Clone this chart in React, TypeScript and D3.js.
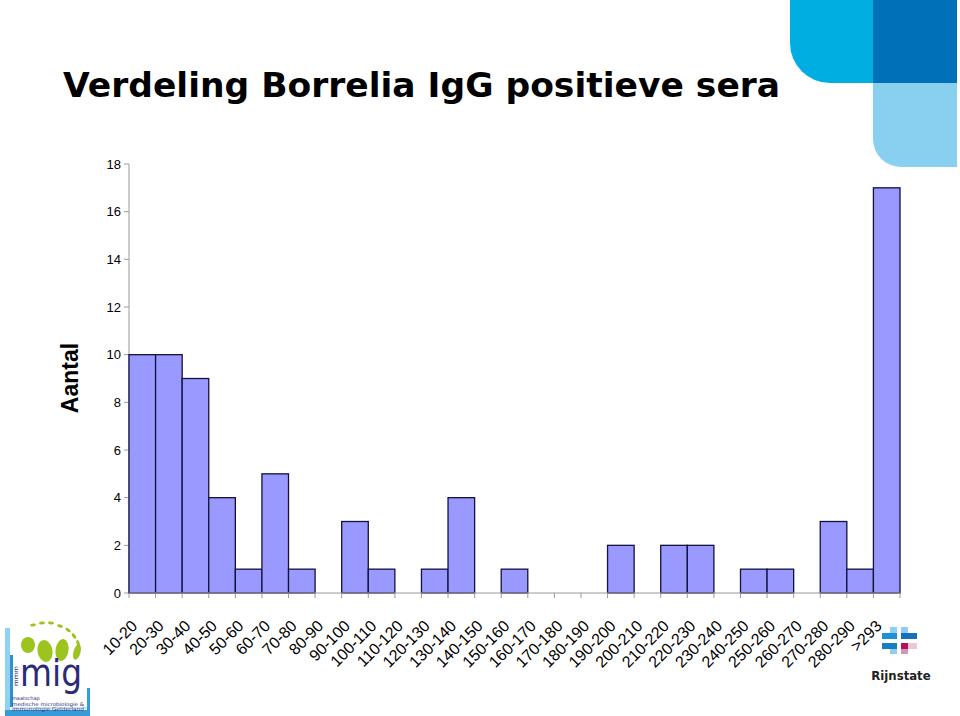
import React from "react";
import * as d3 from "d3";

const categories = [
  "10-20", "20-30", "30-40", "40-50", "50-60", "60-70", "70-80", "80-90", "90-100",
  "100-110", "110-120", "120-130", "130-140", "140-150", "150-160", "160-170", "170-180",
  "180-190", "190-200", "200-210", "210-220", "220-230", "230-240", "240-250", "250-260",
  "260-270", "270-280", "280-290", ">293",
];
const counts = [10, 10, 9, 4, 1, 5, 1, 0, 3, 1, 0, 1, 4, 0, 1, 0, 0, 0, 2, 0, 2, 2, 0, 1, 1, 0, 3, 1, 17];
const yTicks = [0, 2, 4, 6, 8, 10, 12, 14, 16, 18];
const title = "Verdeling Borrelia IgG positieve sera";
const yTitle = "Aantal";

const W = 960;
const H = 716;
const plotLeft = 129;
const plotRight = 900;
const plotTop = 164;
const plotBottom = 593;

export default function App() {
  const x = d3.scaleBand<string>().domain(categories).range([plotLeft, plotRight]).padding(0);
  const y = d3.scaleLinear().domain([0, 18]).range([plotBottom, plotTop]);
  const bw = x.bandwidth();
  const boundaries = d3.range(categories.length + 1).map((i) => plotLeft + i * bw);
  const arial = "'Liberation Sans', Arial, sans-serif";

  return (
    <svg
      width={W}
      height={H}
      viewBox={`0 0 ${W} ${H}`}
      style={{ position: "absolute", left: 0, top: 0, background: "#fff" }}
    >
      <rect x={0} y={0} width={W} height={H} fill="#fff" />

      {/* top-right decoration */}
      <path d="M790,0 H873 V83 H830 A40,40 0 0 1 790,43 Z" fill="#00aee2" />
      <rect x={873} y={0} width={84} height={83} fill="#0070b9" />
      <path d="M873,83 H957 V167 H901 A28,28 0 0 1 873,139 Z" fill="#88cff0" />

      {/* title */}
      <text x={63} y={97} fontFamily="'DejaVu Sans', Verdana, sans-serif" fontWeight="bold" fontSize={34.5} fill="#000">
        {title}
      </text>

      {/* y title */}
      <text
        transform={`translate(78,378) rotate(-90)`}
        textAnchor="middle"
        fontFamily={arial}
        fontWeight="bold"
        fontSize={23}
        fill="#000"
      >
        {yTitle}
      </text>

      {/* y axis */}
      <line x1={plotLeft} x2={plotLeft} y1={plotTop} y2={plotBottom} stroke="#9a9a9a" strokeWidth={1} />
      {yTicks.map((t) => (
        <g key={t}>
          <line x1={plotLeft - 5} x2={plotLeft} y1={y(t)} y2={y(t)} stroke="#9a9a9a" strokeWidth={1} />
          <text x={121} y={y(t)} dy="0.36em" textAnchor="end" fontFamily={arial} fontSize={13} fill="#000">
            {t}
          </text>
        </g>
      ))}

      {/* bars */}
      {categories.map((c, i) =>
        counts[i] > 0 ? (
          <rect
            key={c}
            x={x(c)}
            y={y(counts[i])}
            width={bw}
            height={plotBottom - y(counts[i])}
            fill="#9999ff"
            stroke="#12123c"
            strokeWidth={1.3}
          />
        ) : null
      )}

      {/* x axis */}
      <line x1={plotLeft} x2={plotRight} y1={plotBottom} y2={plotBottom} stroke="#9a9a9a" strokeWidth={1} />
      {boundaries.map((b, i) => (
        <line key={i} x1={b} x2={b} y1={plotBottom} y2={plotBottom + 5} stroke="#9a9a9a" strokeWidth={1} />
      ))}
      {categories.map((c) => (
        <text
          key={c}
          transform={`translate(${(x(c) as number) + bw / 2 - 4},${627}) rotate(-45)`}
          textAnchor="end"
          fontFamily={arial}
          fontSize={16}
          fill="#000"
        >
          {c}
        </text>
      ))}

      {/* mig logo */}
      <g>
        <rect x={5} y={628} width={5} height={88} fill="#8fd3f0" />
        <rect x={10} y={655} width={3} height={52} fill="#2f8fd0" />
        <rect x={5} y={710} width={85} height={6} fill="#3a9ad8" />
        <rect x={87} y={688} width={3} height={28} fill="#3a9ad8" />
        <rect x={13} y={707} width={74} height={2} fill="#bfe6f8" />
        {[
          [33, 625, 3, 1.5, -10],
          [42, 623, 3, 1.5, -5],
          [51, 623, 3, 1.5, 5],
          [60, 626, 3, 1.5, 20],
          [68, 630, 3, 1.5, 35],
          [74, 636, 3, 1.6, 55],
          [78, 643, 3, 1.6, 75],
        ].map((d, i) => (
          <ellipse key={i} cx={d[0]} cy={d[1]} rx={d[2]} ry={d[3]} transform={`rotate(${d[4]},${d[0]},${d[1]})`} fill="#9cc31e" />
        ))}
        <ellipse cx={28} cy={645} rx={7} ry={8} fill="#9cc31e" />
        <ellipse cx={45} cy={651} rx={7.5} ry={11} transform="rotate(-10,45,651)" fill="#9cc31e" />
        <ellipse cx={62} cy={650} rx={6.5} ry={11} transform="rotate(8,62,650)" fill="#9cc31e" />
        <ellipse cx={77} cy={652} rx={3.5} ry={8} transform="rotate(15,77,652)" fill="#9cc31e" />
        <text x={20} y={686} fontFamily="'DejaVu Sans', sans-serif" fontSize={38} fill="#2c2a78" textLength={62} lengthAdjust="spacingAndGlyphs">
          mig
        </text>
        <text transform="translate(18,686) rotate(-90)" fontFamily="'DejaVu Sans', sans-serif" fontSize={6} fill="#2c2a78" textLength={20} lengthAdjust="spacingAndGlyphs">
          mmm
        </text>
        <text x={12} y={700} fontFamily="'DejaVu Sans', sans-serif" fontSize={5} fill="#2c2a78">maatschap</text>
        <text x={12} y={705.5} fontFamily="'DejaVu Sans', sans-serif" fontSize={5} fill="#2c2a78" textLength={72} lengthAdjust="spacingAndGlyphs">
          medische microbiologie &amp;
        </text>
        <text x={12} y={711} fontFamily="'DejaVu Sans', sans-serif" fontSize={5} fill="#2c2a78" textLength={72} lengthAdjust="spacingAndGlyphs">
          Immunologie Gelderland
        </text>
      </g>

      {/* Rijnstate logo */}
      <g>
        <rect x={890} y={627} width={7} height={11} fill="#8fd0f2" />
        <rect x={882} y={633} width={15} height={6} fill="#1e90d8" />
        <rect x={901} y={627} width={7} height={11} fill="#8fd0f2" />
        <rect x={901} y={633} width={16} height={6} fill="#1a70b8" />
        <rect x={890} y={643} width={7} height={11} fill="#8fd0f2" />
        <rect x={882} y={643} width={15} height={6} fill="#1a7cc4" />
        <rect x={901} y={643} width={7} height={11} fill="#d894b8" />
        <rect x={908} y={643} width={9} height={6} fill="#eec6d8" />
        <rect x={901} y={643} width={7} height={6} fill="#b3125f" />
        <text x={901} y={680} textAnchor="middle" fontFamily="'DejaVu Sans Condensed', 'DejaVu Sans', sans-serif" fontWeight="bold" fontSize={13} fill="#222">
          Rijnstate
        </text>
      </g>
    </svg>
  );
}
